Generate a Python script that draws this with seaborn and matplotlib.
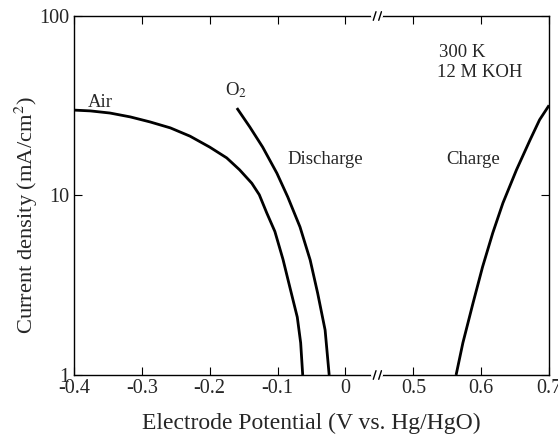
import numpy as np
import pandas as pd
import matplotlib
matplotlib.use("Agg")
import matplotlib.pyplot as plt
import seaborn as sns

# Data (V vs Hg/HgO, mA/cm^2)
air_v = [-0.400, -0.376, -0.347, -0.317, -0.288, -0.258, -0.229, -0.200, -0.175, -0.156,
         -0.138, -0.127, -0.116, -0.104, -0.092, -0.082, -0.071, -0.066, -0.063]
air_i = [29.9, 29.6, 28.8, 27.4, 25.7, 23.8, 21.4, 18.6, 16.2, 13.9,
         11.7, 10.1, 8.0, 6.3, 4.4, 3.09, 2.10, 1.51, 1.0]

o2_v = [-0.160, -0.141, -0.122, -0.101, -0.085, -0.067, -0.052, -0.041, -0.030, -0.024]
o2_i = [30.7, 24.1, 18.6, 13.3, 9.81, 6.68, 4.37, 2.86, 1.78, 1.0]

charge_v = [0.563, 0.573, 0.588, 0.602, 0.617, 0.632, 0.652, 0.672, 0.686, 0.700]
charge_i = [1.0, 1.51, 2.52, 4.0, 6.18, 9.08, 13.9, 20.4, 26.4, 31.8]

xtick_vals = [-0.4, -0.3, -0.2, -0.1, 0.0, 0.5, 0.6, 0.7]
xtick_labels = ["-0.4", "-0.3", "-0.2", "-0.1", "0", "0.5", "0.6", "0.7"]
ytick_vals = [1, 10, 100]
ytick_labels = ["1", "10", "100"]

GAP = 0.4  # broken axis: values >= 0.3 are shifted left by GAP


def tr(v):
    v = np.asarray(v, dtype=float)
    return np.where(v >= 0.3, v - GAP, v)


frames = []
for name, v, i in [("Air", air_v, air_i), ("O2", o2_v, o2_i), ("Charge", charge_v, charge_i)]:
    frames.append(pd.DataFrame({"x": tr(v), "y": i, "curve": name}))
df = pd.concat(frames, ignore_index=True)

sns.set_style("ticks")
plt.rcParams["font.family"] = ["Liberation Serif", "DejaVu Serif"]
plt.rcParams["mathtext.fontset"] = "stix"

fig = plt.figure(figsize=(5.58, 4.37), dpi=100)
ax = fig.add_axes([0.1326, 0.1419, 0.8514, 0.8215])

for name in ["Air", "O2", "Charge"]:
    sub = df[df["curve"] == name]
    sns.lineplot(data=sub, x="x", y="y", ax=ax, color="black", lw=2.0,
                 sort=False, estimator=None, legend=False)
for ln in ax.lines:
    ln.set_solid_joinstyle("round")
    ln.set_solid_capstyle("butt")

ax.set_yscale("log")
ax.set_xlim(-0.4, 0.3)
ax.set_ylim(1, 100)
ax.set_xticks(tr(xtick_vals))
ax.set_xticklabels(xtick_labels, fontsize=14.5)
ax.set_yticks(ytick_vals)
ax.set_yticklabels(ytick_labels, fontsize=14.5)
ax.minorticks_off()
ax.tick_params(axis="both", direction="in", length=6, width=0.8, color="black",
               top=True, right=True, pad=3)
ax.tick_params(axis="x", pad=3)
for s in ax.spines.values():
    s.set_linewidth(1.0)
    s.set_color("black")

ax.set_xlabel("Electrode Potential (V vs. Hg/HgO)", fontsize=17, va="center")
ax.xaxis.set_label_coords(0.5, -0.135)
ax.set_ylabel("Current density (mA/cm$^2$)", fontsize=16.2, va="center")
ax.yaxis.set_label_coords(-0.1, 0.446)

# axis break marks on top and bottom spines
bx = 0.047
for yy in (0.0, 1.0):
    ax.plot([bx - 0.006, bx + 0.006], [yy, yy], transform=ax.get_xaxis_transform(),
            color="white", lw=3, clip_on=False, zorder=5)
    for dx in (-0.004, 0.004):
        ax.plot([bx + dx - 0.002, bx + dx + 0.002], [yy - 0.012, yy + 0.012],
                transform=ax.get_xaxis_transform(), color="black", lw=1.0,
                clip_on=False, zorder=6)

fs = 13.5
ax.text(-0.379, 31.1, "Air", fontsize=fs, ha="left", va="baseline")
ax.text(-0.178, 36.3, "O$_2$", fontsize=fs, ha="left", va="baseline")
ax.text(-0.086, 15.0, "Discharge", fontsize=fs, ha="left", va="baseline")
ax.text(0.149, 15.0, "Charge", fontsize=fs, ha="left", va="baseline")
ax.text(0.1375, 59.1, "300 K", fontsize=fs, ha="left", va="baseline")
ax.text(0.1346, 45.7, "12 M KOH", fontsize=fs, ha="left", va="baseline")

fig.savefig("out.png", dpi=100)
